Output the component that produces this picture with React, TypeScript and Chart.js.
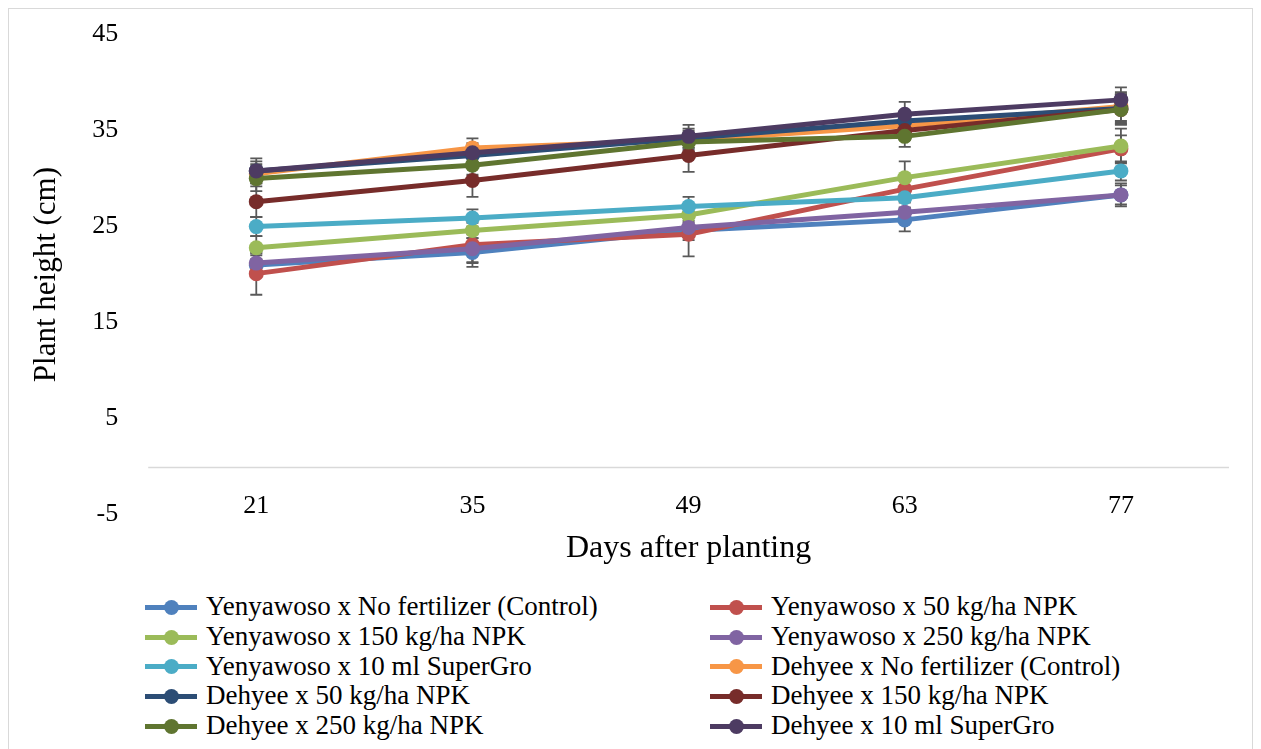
import React, { useEffect, useRef } from "react";
import { Chart, registerables } from "chart.js";

Chart.register(...registerables);

const days = ["21", "35", "49", "63", "77"];
const yTicks = [-5, 5, 15, 25, 35, 45];

const seriesNames = [
  "Yenyawoso x No fertilizer (Control)",
  "Yenyawoso x 50 kg/ha NPK",
  "Yenyawoso x 150 kg/ha NPK",
  "Yenyawoso x 250 kg/ha NPK",
  "Yenyawoso x 10 ml SuperGro",
  "Dehyee x No fertilizer (Control)",
  "Dehyee x 50 kg/ha NPK",
  "Dehyee x 150 kg/ha NPK",
  "Dehyee x 250 kg/ha NPK",
  "Dehyee x 10 ml SuperGro",
];

const seriesColors = [
  "#4F81BD",
  "#C0504D",
  "#9BBB59",
  "#8064A2",
  "#4BACC6",
  "#F79646",
  "#2C4D75",
  "#772C2A",
  "#5F7530",
  "#4D3B62",
];

const yenControl = [21.0, 22.3, 24.6, 25.7, 28.3];
const yen50 = [20.1, 23.1, 24.2, 28.9, 33.1];
const yen150 = [22.8, 24.6, 26.2, 30.1, 33.4];
const yen250 = [21.2, 22.7, 24.9, 26.5, 28.3];
const yenSuperGro = [25.0, 25.9, 27.1, 28.0, 30.8];
const dehControl = [30.5, 33.2, 34.0, 35.5, 37.5];
const deh50 = [30.8, 32.4, 34.2, 36.0, 37.3];
const deh150 = [27.6, 29.8, 32.4, 35.0, 37.2];
const deh250 = [30.0, 31.4, 33.8, 34.4, 37.2];
const dehSuperGro = [30.8, 32.7, 34.4, 36.7, 38.2];

const yenControlErr = [1.0, 1.5, 1.0, 1.2, 1.0];
const yen50Err = [2.2, 1.8, 2.3, 1.2, 1.4];
const yen150Err = [1.2, 0.8, 0.8, 1.7, 1.8];
const yen250Err = [1.0, 1.5, 1.0, 1.0, 1.2];
const yenSuperGroErr = [1.0, 0.9, 1.0, 1.0, 1.0];
const dehControlErr = [1.0, 1.0, 1.0, 1.0, 1.5];
const deh50Err = [1.0, 1.0, 1.0, 1.0, 1.5];
const deh150Err = [1.6, 1.7, 1.7, 1.0, 1.5];
const deh250Err = [1.3, 1.0, 1.0, 1.1, 1.6];
const dehSuperGroErr = [1.3, 1.0, 1.2, 1.3, 1.3];

const seriesValues = [
  yenControl, yen50, yen150, yen250, yenSuperGro,
  dehControl, deh50, deh150, deh250, dehSuperGro,
];
const seriesErrors = [
  yenControlErr, yen50Err, yen150Err, yen250Err, yenSuperGroErr,
  dehControlErr, deh50Err, deh150Err, deh250Err, dehSuperGroErr,
];

const FONT = "'Liberation Serif', 'Times New Roman', serif";

const errorBarPlugin = {
  id: "errorBars",
  beforeDatasetsDraw(chart: any) {
    const { ctx, scales } = chart;
    const y = scales.y;
    ctx.save();
    ctx.strokeStyle = "#595959";
    ctx.lineWidth = 1.8;
    chart.data.datasets.forEach((ds: any, di: number) => {
      const meta = chart.getDatasetMeta(di);
      const errs = seriesErrors[di];
      meta.data.forEach((pt: any, i: number) => {
        const v = ds.data[i];
        const e = errs[i];
        const x = pt.x;
        const yTop = y.getPixelForValue(v + e);
        const yBot = y.getPixelForValue(v - e);
        ctx.beginPath();
        ctx.moveTo(x, yTop);
        ctx.lineTo(x, yBot);
        ctx.moveTo(x - 6, yTop);
        ctx.lineTo(x + 6, yTop);
        ctx.moveTo(x - 6, yBot);
        ctx.lineTo(x + 6, yBot);
        ctx.stroke();
      });
    });
    ctx.restore();
  },
};

const zeroLinePlugin = {
  id: "zeroLine",
  beforeDatasetsDraw(chart: any) {
    const { ctx, chartArea, scales } = chart;
    const yy = Math.round(scales.y.getPixelForValue(0)) + 0.5;
    ctx.save();
    ctx.strokeStyle = "#d9d9d9";
    ctx.lineWidth = 1.3;
    ctx.beginPath();
    ctx.moveTo(chartArea.left, yy);
    ctx.lineTo(chartArea.right, yy);
    ctx.stroke();
    ctx.restore();
  },
};

// category labels drawn just above the bottom of the value range, as in the original
const xLabelPlugin = {
  id: "xLabels",
  afterDraw(chart: any) {
    const { ctx, scales } = chart;
    const xs = scales.x;
    const yy = scales.y.getPixelForValue(yTicks[0]) - 8;
    ctx.save();
    ctx.fillStyle = "#000";
    ctx.font = `26px ${FONT}`;
    ctx.textAlign = "center";
    ctx.textBaseline = "middle";
    days.forEach((d, i) => {
      ctx.fillText(d, xs.getPixelForValue(i), yy);
    });
    ctx.restore();
  },
};

export default function App() {
  const canvasRef = useRef<HTMLCanvasElement | null>(null);

  useEffect(() => {
    if (!canvasRef.current) return;
    const chart = new Chart(canvasRef.current, {
      type: "line",
      data: {
        labels: days,
        datasets: seriesNames.map((name, i) => ({
          label: name,
          data: seriesValues[i],
          borderColor: seriesColors[i],
          backgroundColor: seriesColors[i],
          pointBackgroundColor: seriesColors[i],
          pointBorderColor: seriesColors[i],
          borderWidth: 5,
          pointRadius: 7.5,
          pointBorderWidth: 0,
          tension: 0,
          fill: false,
          order: seriesNames.length - i,
        })),
      },
      options: {
        responsive: false,
        animation: false,
        layout: { padding: { top: 0, right: 23, left: 19, bottom: 0 } },
        plugins: {
          legend: { display: false },
          tooltip: { enabled: false },
        },
        scales: {
          x: {
            type: "category",
            offset: true,
            grid: { display: false, drawTicks: false },
            border: { display: false },
            ticks: { display: false },
            title: {
              display: true,
              text: "Days after planting",
              color: "#000",
              font: { family: FONT, size: 32 },
              padding: { top: 15, bottom: 0 },
            },
          },
          y: {
            type: "linear",
            min: -5,
            max: 45,
            afterBuildTicks: (scale: any) => {
              scale.ticks = yTicks.map((v) => ({ value: v }));
            },
            grid: { display: false, drawTicks: false },
            border: { display: false },
            ticks: {
              color: "#000",
              font: { family: FONT, size: 26 },
              padding: 30,
            },
            title: {
              display: true,
              text: "Plant height (cm)",
              color: "#000",
              font: { family: FONT, size: 31 },
              padding: { top: 0, bottom: -3 },
            },
          },
        },
      },
      plugins: [zeroLinePlugin, errorBarPlugin, xLabelPlugin],
    });
    return () => chart.destroy();
  }, []);

  return (
    <div
      style={{
        position: "relative",
        width: 1245,
        height: 745,
        boxSizing: "border-box",
        border: "1px solid #d9d9d9",
        background: "#fff",
        overflow: "hidden",
      }}
    >
      <canvas
        ref={canvasRef}
        width={1243}
        height={579}
        style={{ display: "block", marginTop: -20 }}
      />
      <div
        style={{
          position: "absolute",
          left: 136,
          top: 583,
          width: 1120,
          display: "grid",
          gridTemplateColumns: "565px 555px",
          gridAutoRows: "29.75px",
          fontFamily: FONT,
          fontSize: 27,
          color: "#000",
        }}
      >
        {seriesNames.map((name, i) => (
          <div key={name} style={{ display: "flex", alignItems: "center", whiteSpace: "nowrap" }}>
            <span style={{ position: "relative", display: "inline-block", width: 52, height: 16, marginRight: 9 }}>
              <span
                style={{
                  position: "absolute",
                  left: 0,
                  right: 0,
                  top: 6,
                  height: 5,
                  background: seriesColors[i],
                }}
              />
              <span
                style={{
                  position: "absolute",
                  left: 18.5,
                  top: 1,
                  width: 15,
                  height: 15,
                  borderRadius: "50%",
                  background: seriesColors[i],
                }}
              />
            </span>
            <span style={{ lineHeight: "29.75px" }}>{name}</span>
          </div>
        ))}
      </div>
    </div>
  );
}
